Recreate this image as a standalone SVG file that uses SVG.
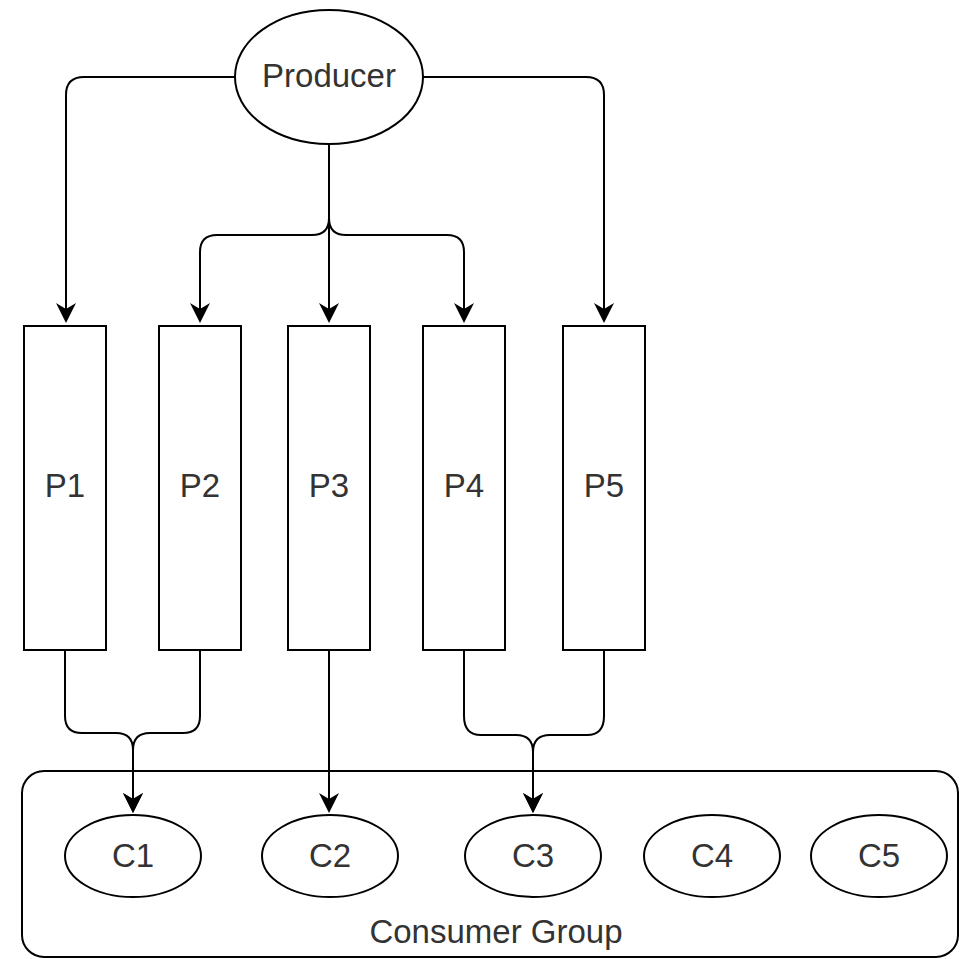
<svg xmlns="http://www.w3.org/2000/svg" width="960" height="959" viewBox="0 0 960 959">
  <style>
    .shape { fill: #ffffff; stroke: #000000; stroke-width: 2; }
    .edge { fill: none; stroke: #000000; stroke-width: 2; }
    .label { font-family: "Liberation Sans", Arial, sans-serif; font-size: 33px; fill: #333333; text-anchor: middle; }
  </style>
  <defs>
    <marker id="arrow" markerUnits="userSpaceOnUse" markerWidth="22" markerHeight="22" viewBox="0 -11 22 22" refX="6" refY="0" orient="auto">
      <path d="M0,-10 L20,0 L0,10 L6,0 Z" fill="#000000"/>
    </marker>
  </defs>

  <rect width="960" height="959" fill="#ffffff"/>

  <!-- consumer group container -->
  <g id="consumer-group">
    <rect class="shape" x="22" y="771" width="936" height="186" rx="22" ry="22"/>
    <text class="label" x="496" y="943">Consumer Group</text>
  </g>

  <!-- producer -->
  <g id="producer">
    <ellipse class="shape" cx="329" cy="77" rx="94" ry="67"/>
    <text class="label" x="329" y="87">Producer</text>
  </g>

  <!-- partitions -->
  <g id="p1">
    <rect class="shape" x="24" y="326" width="82" height="324"/>
    <text class="label" x="65" y="497">P1</text>
  </g>
  <g id="p2">
    <rect class="shape" x="159" y="326" width="82" height="324"/>
    <text class="label" x="200" y="497">P2</text>
  </g>
  <g id="p3">
    <rect class="shape" x="288" y="326" width="82" height="324"/>
    <text class="label" x="329" y="497">P3</text>
  </g>
  <g id="p4">
    <rect class="shape" x="423" y="326" width="82" height="324"/>
    <text class="label" x="464" y="497">P4</text>
  </g>
  <g id="p5">
    <rect class="shape" x="563" y="326" width="82" height="324"/>
    <text class="label" x="604" y="497">P5</text>
  </g>

  <!-- consumers -->
  <g id="c1">
    <ellipse class="shape" cx="133" cy="856" rx="68" ry="41"/>
    <text class="label" x="133" y="867">C1</text>
  </g>
  <g id="c2">
    <ellipse class="shape" cx="330" cy="856" rx="68" ry="41"/>
    <text class="label" x="330" y="867">C2</text>
  </g>
  <g id="c3">
    <ellipse class="shape" cx="533" cy="856" rx="68" ry="41"/>
    <text class="label" x="533" y="867">C3</text>
  </g>
  <g id="c4">
    <ellipse class="shape" cx="712" cy="856" rx="68" ry="41"/>
    <text class="label" x="712" y="867">C4</text>
  </g>
  <g id="c5">
    <ellipse class="shape" cx="879" cy="856" rx="68" ry="41"/>
    <text class="label" x="879" y="867">C5</text>
  </g>

  <!-- connectors -->
  <g id="edges">
    <path class="edge" marker-end="url(#arrow)" d="M235,77 H84 Q66,77 66,95 V309"/>
    <path class="edge" marker-end="url(#arrow)" d="M423,77 H586 Q604,77 604,95 V309"/>
    <path class="edge" marker-end="url(#arrow)" d="M329,144 V309"/>
    <path class="edge" marker-end="url(#arrow)" d="M329,144 V218 Q329,235 312,235 H217 Q200,235 200,252 V309"/>
    <path class="edge" marker-end="url(#arrow)" d="M329,144 V218 Q329,235 346,235 H447 Q464,235 464,252 V309"/>

    <path class="edge" marker-end="url(#arrow)" d="M65,650 V716 Q65,733 82,733 H116 Q133,733 133,750 V799"/>
    <path class="edge" marker-end="url(#arrow)" d="M200,650 V716 Q200,733 183,733 H150 Q133,733 133,750 V799"/>
    <path class="edge" marker-end="url(#arrow)" d="M329,650 V799"/>
    <path class="edge" marker-end="url(#arrow)" d="M464,650 V716 Q464,735 481,735 H516 Q533,735 533,752 V799"/>
    <path class="edge" marker-end="url(#arrow)" d="M604,650 V716 Q604,735 587,735 H550 Q533,735 533,752 V799"/>
  </g>
</svg>
